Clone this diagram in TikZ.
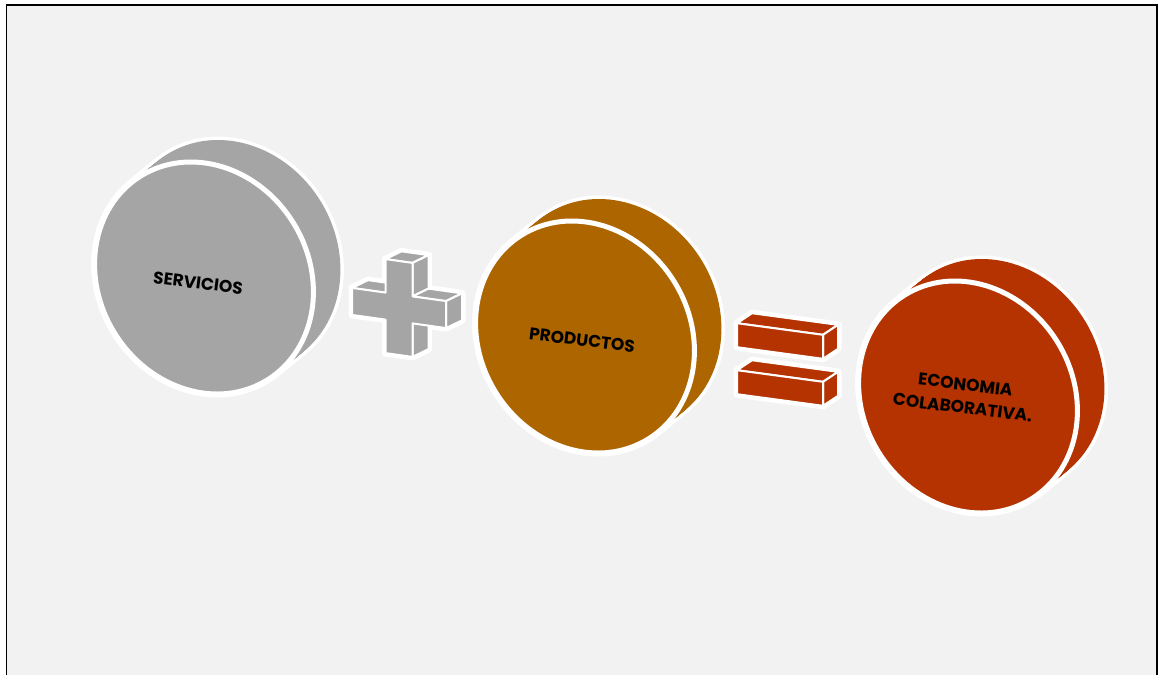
\documentclass[tikz,border=0pt]{standalone}
\usepackage{fontspec}
\setmainfont{Poppins}
\begin{document}
\begin{tikzpicture}[x=1pt,y=1pt]
\definecolor{bgc}{HTML}{F2F2F2}
\definecolor{cgray}{HTML}{A5A5A5}
\definecolor{cbrown}{HTML}{AD6500}
\definecolor{cred}{HTML}{B43300}
\tikzset{
  lbl/.style={font=\bfseries\fontsize{17}{23}\selectfont, text=black, rotate=-7, align=center, inner sep=0pt},
  halo/.style={white, line width=7pt, line join=round},
  facet/.style={draw=white, line width=2pt, line join=round},
  frontring/.style={draw=white, line width=5pt},
}
\newcommand\DrawDisk[3]{%
  \begin{scope}[shift={(#1,#2)}]
    \foreach \i in {0,...,27}{\draw[halo, shift={(\i,\i*0.815)}, rotate=32] (0,0) ellipse [x radius=105, y radius=120];}
    \foreach \i in {0,...,27}{\fill[#3, shift={(\i,\i*0.815)}, rotate=32] (0,0) ellipse [x radius=105, y radius=120];}
    \filldraw[fill=#3, frontring, rotate=32] (0,0) ellipse [x radius=105, y radius=120];
  \end{scope}}
\newcommand\CrossFaces[1]{%
  \path[#1] (13.5,47) -- (-13.5,47) -- (2.5,57) -- (29.5,57) -- cycle;
  \path[#1] (-13.5,13.5) -- (-47,13.5) -- (-31,23.5) -- (2.5,23.5) -- cycle;
  \path[#1] (13.5,13.5) -- (13.5,47) -- (29.5,57) -- (29.5,23.5) -- cycle;
  \path[#1] (47,13.5) -- (13.5,13.5) -- (29.5,23.5) -- (63,23.5) -- cycle;
  \path[#1] (47,-13.5) -- (47,13.5) -- (63,23.5) -- (63,-3.5) -- cycle;
  \path[#1] (13.5,-47) -- (13.5,-13.5) -- (29.5,-3.5) -- (29.5,-37) -- cycle;
  \path[#1] (13.5,47) -- (-13.5,47) -- (-13.5,13.5) -- (-47,13.5) -- (-47,-13.5) -- (-13.5,-13.5) -- (-13.5,-47) -- (13.5,-47) -- (13.5,-13.5) -- (47,-13.5) -- (47,13.5) -- (13.5,13.5) -- cycle;}
\newcommand\BarFaces[1]{%
  \path[#1] (-43,12) -- (43,12) -- (58,24) -- (-28,24) -- cycle;
  \path[#1] (43,-12) -- (43,12) -- (58,24) -- (58,0) -- cycle;
  \path[#1] (-43,-12) rectangle (43,12);}
% canvas
\useasboundingbox (0,0) rectangle (1158,-675);
\fill[white] (0,0) rectangle (1158,-675);
\fill[bgc] (6,-5) rectangle (1157,-675);
\draw[black, line width=1.6pt] (6.5,-675) -- (6.5,-5) -- (1157,-5) -- (1157,-675);
% disks
\DrawDisk{204}{-278}{cgray}
\DrawDisk{585}{-337}{cbrown}
\DrawDisk{968}{-397}{cred}
% plus
\begin{scope}[shift={(399,-308)}, yslant=-0.14]
  \CrossFaces{draw=white, line width=7pt, line join=round}
  \CrossFaces{fill=cgray, facet}
\end{scope}
% equals
\begin{scope}[shift={(780,-388)}, yslant=-0.135]
  \BarFaces{draw=white, line width=7pt, line join=round}
\end{scope}
\begin{scope}[shift={(780,-341)}, yslant=-0.135]
  \BarFaces{draw=white, line width=7pt, line join=round}
\end{scope}
\begin{scope}[shift={(780,-388)}, yslant=-0.135]
  \BarFaces{fill=cred, facet}
\end{scope}
\begin{scope}[shift={(780,-341)}, yslant=-0.135]
  \BarFaces{fill=cred, facet}
\end{scope}
% labels
\node[lbl] (servicios) at (198,-283) {SERVICIOS};
\node[lbl] (productos) at (582,-340) {PRODUCTOS};
\node[lbl] (economia) at (964,-396) {ECONOMIA\\COLABORATIVA.};
\end{tikzpicture}
\end{document}
